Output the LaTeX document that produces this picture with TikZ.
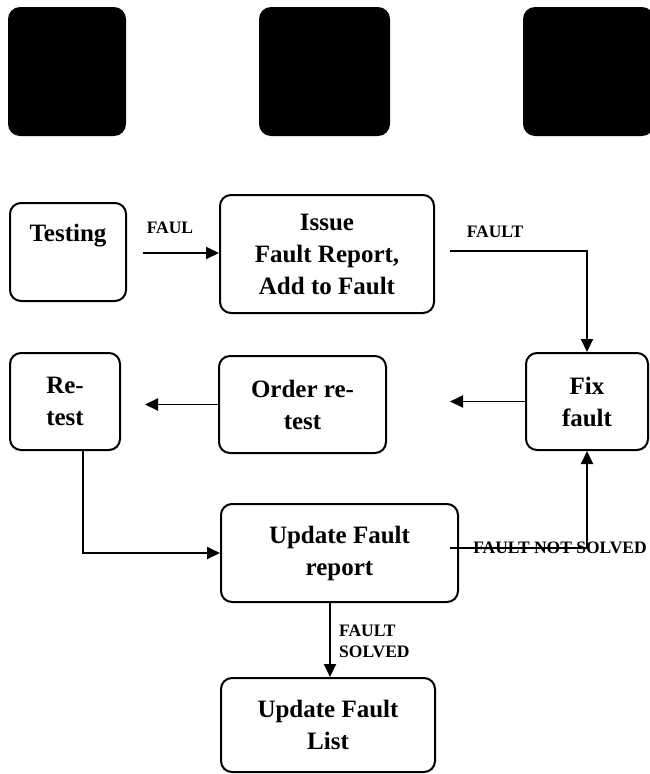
\documentclass[tikz,border=0pt]{standalone}
\usepackage{fontspec}
\setmainfont{Liberation Serif}
\usetikzlibrary{arrows.meta}

\newcommand{\procfont}{\fontsize{25}{32}\selectfont\bfseries}
\newcommand{\lblfont}{\fontsize{17.5}{21}\selectfont\bfseries}

\tikzset{
  blk/.style={fill=black, draw=none, rounded corners=12pt, inner sep=0pt},
  proc/.style={draw, line width=2pt, rounded corners=11pt, align=center,
               inner sep=0pt, font=\procfont},
  flow/.style={line width=1.9pt, -{Triangle[length=13pt,width=12pt]}},
  lbl/.style={font=\lblfont, inner sep=0pt},
}

\begin{document}
\begin{tikzpicture}[x=1pt, y=-1pt]
  \useasboundingbox (0,0) rectangle (650,774);

  % solid blocks along the top
  \node[blk, minimum width=118pt, minimum height=129pt] (blkA) at (67,71.5) {};
  \node[blk, minimum width=131pt, minimum height=129pt] (blkB) at (324.5,71.5) {};
  \node[blk, minimum width=131pt, minimum height=129pt] (blkC) at (588.5,71.5) {};

  % process boxes
  \node[proc, minimum width=116pt, minimum height=98pt] (test) at (68,252) {Testing\\[6pt]\mbox{}};
  \node[proc, minimum width=214pt, minimum height=118pt] (issue) at (327,254)
       {Issue\\Fault Report,\\Add to Fault};
  \node[proc, minimum width=110pt, minimum height=97pt] (retest) at (65,401.5) {Re-\\test};
  \node[proc, minimum width=167pt, minimum height=97pt] (order) at (302.5,404.5) {Order re-\\test};
  \node[proc, minimum width=122pt, minimum height=97pt] (fix) at (587,401.5) {Fix\\fault};
  \node[proc, minimum width=237pt, minimum height=98pt] (upd) at (339.5,553) {Update Fault\\report};
  \node[proc, minimum width=214pt, minimum height=94pt] (list) at (328,725) {Update Fault\\List};

  % free ends and bend points
  \coordinate (failStart) at (143,253);
  \coordinate (faultStart) at (450,251);
  \coordinate (orderTip) at (450,403);
  \coordinate (retestTip) at (145,403);
  \coordinate (retestDrop) at (83,450);
  \coordinate (notSolvedStart) at (450,548);

  % connectors
  \draw[flow] (failStart) -- (failStart -| issue.west);
  \draw[flow] (faultStart) -| (fix.north);
  \draw[flow] (fix.west) -- (fix.west -| orderTip);
  \draw[flow] (order.west) -- (order.west -| retestTip);
  \draw[flow] (retestDrop) |- (upd.west);
  \draw[flow] (notSolvedStart) -| (fix.south);
  \draw[flow] (upd.south -| 330,0) -- (list.north -| 330,0);

  % connector labels
  \node[lbl] (lblFail) at (170,228) {FAUL};
  \node[lbl] (lblFault) at (495,232) {FAULT};
  \node[lbl] (lblNotSolved) at (560,548) {FAULT NOT SOLVED};
  \node[lbl, anchor=west, align=left] (lblSolved) at (339,641.5) {FAULT\\SOLVED};
\end{tikzpicture}
\end{document}
